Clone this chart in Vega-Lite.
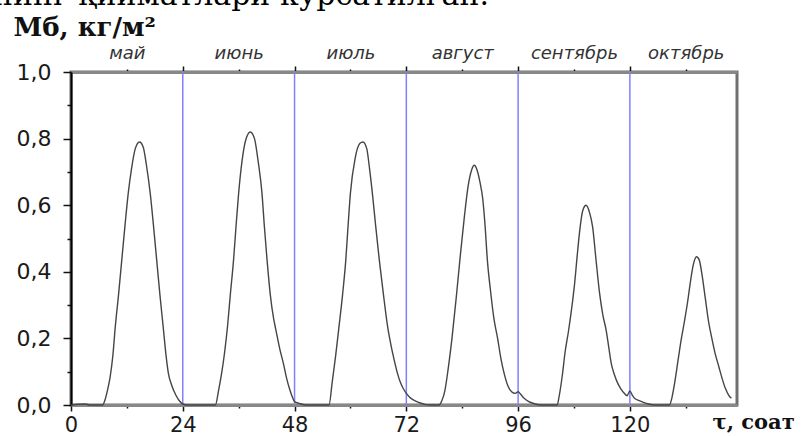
{
  "$schema": "https://vega.github.io/schema/vega-lite/v6.json",
  "width": 666,
  "height": 333,
  "autosize": {"type": "none"},
  "padding": {"left": 71, "top": 72, "right": 73, "bottom": 31},
  "background": "white",
  "title": {
    "text": "нинг қийматлари кўрсатилган.",
    "anchor": "start",
    "frame": "group",
    "orient": "top",
    "offset": -21,
    "dx": -78,
    "baseline": "alphabetic",
    "font": "DejaVu Serif",
    "fontSize": 30,
    "fontWeight": "normal",
    "color": "#000000"
  },
  "config": {
    "view": {"stroke": "#707070", "strokeWidth": 3},
    "axis": {"grid": false, "zindex": 1}
  },
  "datasets": {
    "days": [{"t": 24}, {"t": 48}, {"t": 72}, {"t": 96}, {"t": 120}],
    "curve": [
      {"t": 0, "m": 0}, {"t": 3, "m": 0.003}, {"t": 4, "m": 0}, {"t": 6.8, "m": 0},
      {"t": 7.4, "m": 0.02}, {"t": 8.0, "m": 0.055}, {"t": 8.4, "m": 0.084}, {"t": 9.0, "m": 0.15},
      {"t": 9.5, "m": 0.234}, {"t": 10.2, "m": 0.33}, {"t": 10.9, "m": 0.435}, {"t": 11.6, "m": 0.54},
      {"t": 12.3, "m": 0.637}, {"t": 13.0, "m": 0.71}, {"t": 13.8, "m": 0.77}, {"t": 14.7, "m": 0.79},
      {"t": 15.5, "m": 0.775}, {"t": 16.2, "m": 0.72}, {"t": 17.0, "m": 0.637}, {"t": 17.7, "m": 0.54},
      {"t": 18.4, "m": 0.435}, {"t": 19.1, "m": 0.33}, {"t": 19.8, "m": 0.234}, {"t": 20.4, "m": 0.15},
      {"t": 20.9, "m": 0.096}, {"t": 21.6, "m": 0.06}, {"t": 22.5, "m": 0.03}, {"t": 23.3, "m": 0.012},
      {"t": 24.0, "m": 0.003}, {"t": 25.0, "m": 0}, {"t": 31.0, "m": 0},
      {"t": 31.7, "m": 0.045}, {"t": 32.4, "m": 0.1}, {"t": 33.0, "m": 0.16}, {"t": 33.6, "m": 0.235},
      {"t": 34.2, "m": 0.33}, {"t": 34.9, "m": 0.435}, {"t": 35.4, "m": 0.53}, {"t": 36.0, "m": 0.637},
      {"t": 36.7, "m": 0.73}, {"t": 37.5, "m": 0.795}, {"t": 38.5, "m": 0.82}, {"t": 39.4, "m": 0.8},
      {"t": 40.2, "m": 0.73}, {"t": 41.0, "m": 0.637}, {"t": 41.5, "m": 0.54}, {"t": 42.1, "m": 0.435},
      {"t": 42.8, "m": 0.33}, {"t": 43.5, "m": 0.26}, {"t": 44.0, "m": 0.225}, {"t": 44.8, "m": 0.17},
      {"t": 45.6, "m": 0.125}, {"t": 46.3, "m": 0.08}, {"t": 47.0, "m": 0.045}, {"t": 47.5, "m": 0.025},
      {"t": 48.0, "m": 0.01}, {"t": 49.0, "m": 0.005}, {"t": 50.5, "m": 0}, {"t": 55.4, "m": 0},
      {"t": 56.1, "m": 0.07}, {"t": 56.8, "m": 0.145}, {"t": 57.5, "m": 0.23}, {"t": 58.3, "m": 0.33},
      {"t": 59.0, "m": 0.435}, {"t": 59.5, "m": 0.54}, {"t": 60.0, "m": 0.637}, {"t": 61.0, "m": 0.74},
      {"t": 62.0, "m": 0.785}, {"t": 62.7, "m": 0.79}, {"t": 63.5, "m": 0.77}, {"t": 64.1, "m": 0.71},
      {"t": 64.7, "m": 0.637}, {"t": 65.4, "m": 0.54}, {"t": 66.2, "m": 0.435}, {"t": 67.1, "m": 0.33},
      {"t": 68.0, "m": 0.234}, {"t": 68.7, "m": 0.18}, {"t": 69.4, "m": 0.135}, {"t": 70.1, "m": 0.095},
      {"t": 70.8, "m": 0.065}, {"t": 71.4, "m": 0.048}, {"t": 72.0, "m": 0.035}, {"t": 73.0, "m": 0.02},
      {"t": 74.0, "m": 0.012}, {"t": 75.0, "m": 0.006}, {"t": 76.0, "m": 0.002}, {"t": 77.0, "m": 0},
      {"t": 79.0, "m": 0}, {"t": 79.6, "m": 0.012}, {"t": 80.3, "m": 0.045}, {"t": 81.0, "m": 0.11},
      {"t": 81.8, "m": 0.2}, {"t": 82.7, "m": 0.32}, {"t": 83.6, "m": 0.45}, {"t": 84.5, "m": 0.57},
      {"t": 85.3, "m": 0.66}, {"t": 86.0, "m": 0.705}, {"t": 86.6, "m": 0.72}, {"t": 87.2, "m": 0.705},
      {"t": 87.8, "m": 0.67}, {"t": 88.4, "m": 0.62}, {"t": 88.9, "m": 0.54}, {"t": 89.4, "m": 0.435},
      {"t": 90.1, "m": 0.34}, {"t": 90.8, "m": 0.26}, {"t": 91.6, "m": 0.2}, {"t": 92.3, "m": 0.14},
      {"t": 93.0, "m": 0.095}, {"t": 93.8, "m": 0.058}, {"t": 94.6, "m": 0.04}, {"t": 95.4, "m": 0.035},
      {"t": 96.0, "m": 0.04}, {"t": 96.5, "m": 0.033}, {"t": 97.3, "m": 0.02}, {"t": 98.3, "m": 0.01},
      {"t": 99.5, "m": 0.004}, {"t": 101.0, "m": 0}, {"t": 104.4, "m": 0},
      {"t": 104.8, "m": 0.025}, {"t": 105.5, "m": 0.09}, {"t": 106.1, "m": 0.16}, {"t": 106.8, "m": 0.22},
      {"t": 107.5, "m": 0.29}, {"t": 108.1, "m": 0.36}, {"t": 108.7, "m": 0.45}, {"t": 109.2, "m": 0.52},
      {"t": 109.9, "m": 0.585}, {"t": 110.6, "m": 0.6}, {"t": 111.3, "m": 0.58}, {"t": 112.0, "m": 0.535},
      {"t": 112.7, "m": 0.44}, {"t": 113.5, "m": 0.335}, {"t": 114.2, "m": 0.27}, {"t": 114.9, "m": 0.225},
      {"t": 115.5, "m": 0.17}, {"t": 116.0, "m": 0.125}, {"t": 116.7, "m": 0.09}, {"t": 117.4, "m": 0.065},
      {"t": 118.1, "m": 0.048}, {"t": 118.8, "m": 0.035}, {"t": 119.4, "m": 0.028}, {"t": 120.0, "m": 0.042},
      {"t": 120.5, "m": 0.03}, {"t": 121.0, "m": 0.02}, {"t": 122.0, "m": 0.013}, {"t": 122.9, "m": 0.008},
      {"t": 124.0, "m": 0.003}, {"t": 125.5, "m": 0}, {"t": 128.5, "m": 0},
      {"t": 129.0, "m": 0.02}, {"t": 129.6, "m": 0.065}, {"t": 130.3, "m": 0.13}, {"t": 131.0, "m": 0.195},
      {"t": 131.7, "m": 0.25}, {"t": 132.4, "m": 0.31}, {"t": 133.0, "m": 0.37}, {"t": 133.6, "m": 0.42},
      {"t": 134.3, "m": 0.445}, {"t": 134.9, "m": 0.435}, {"t": 135.5, "m": 0.39}, {"t": 136.2, "m": 0.32},
      {"t": 136.9, "m": 0.25}, {"t": 137.6, "m": 0.2}, {"t": 138.3, "m": 0.155}, {"t": 139.1, "m": 0.115},
      {"t": 139.8, "m": 0.08}, {"t": 140.5, "m": 0.05}, {"t": 141.2, "m": 0.03}, {"t": 141.8, "m": 0.02}
    ]
  },
  "layer": [
    {
      "data": {"name": "days"},
      "mark": {"type": "rule", "color": "#8080ff", "strokeWidth": 1.5},
      "encoding": {
        "x": {
          "field": "t",
          "type": "quantitative",
          "scale": {"domain": [0, 143], "nice": false, "zero": false},
          "axis": {
            "orient": "top",
            "title": null,
            "values": [12, 24, 36, 48, 60, 72, 84, 96, 108, 120, 132],
            "labelExpr": "datum.value % 24 == 12 ? ['май','июнь','июль','август','сентябрь','октябрь'][floor(datum.value / 24)] : ''",
            "labelFont": "DejaVu Sans",
            "labelFontStyle": "italic",
            "labelFontSize": 18,
            "labelColor": "#333333",
            "labelBaseline": "alphabetic",
            "labelPadding": 11,
            "labelFlush": false,
            "labelOverlap": false,
            "domainColor": "#888888",
            "domainWidth": 3,
            "tickColor": "#111111",
            "tickWidth": 1.5,
            "tickSize": {"condition": {"test": "datum.value % 24 == 0", "value": 6}, "value": 3}
          }
        }
      }
    },
    {
      "data": {"name": "curve"},
      "mark": {"type": "line", "interpolate": "monotone", "color": "#454545", "strokeWidth": 1.4},
      "encoding": {
        "x": {
          "field": "t",
          "type": "quantitative",
          "scale": {"domain": [0, 143], "nice": false, "zero": false},
          "axis": {
            "orient": "bottom",
            "values": [0, 12, 24, 36, 48, 60, 72, 84, 96, 108, 120, 132],
            "labelExpr": "datum.value % 24 == 0 ? datum.label : ''",
            "labelFont": "DejaVu Sans",
            "labelFontSize": 21,
            "labelColor": "#1a1a1a",
            "labelPadding": 3,
            "labelFlush": false,
            "labelOverlap": false,
            "domainColor": "#888888",
            "domainWidth": 3,
            "tickColor": "#111111",
            "tickWidth": 1.5,
            "tickSize": {"condition": {"test": "datum.value % 24 == 0", "value": 6}, "value": 3},
            "title": "τ, соат",
            "titleFont": "DejaVu Serif",
            "titleFontWeight": "bold",
            "titleFontSize": 21,
            "titleColor": "#111111",
            "titleAngle": 0,
            "titleAlign": "left",
            "titleBaseline": "alphabetic",
            "titleX": 641,
            "titleY": 23
          }
        },
        "y": {
          "field": "m",
          "type": "quantitative",
          "scale": {"domain": [0, 1], "nice": false},
          "axis": {
            "values": [0, 0.1, 0.2, 0.3, 0.4, 0.5, 0.6, 0.7, 0.8, 0.9, 1.0],
            "labelExpr": "round(datum.value * 10) % 2 == 0 ? replace(format(datum.value, '.1f'), '.', ',') : ''",
            "labelFont": "DejaVu Sans",
            "labelFontSize": 22,
            "labelColor": "#1a1a1a",
            "labelPadding": 12,
            "labelOverlap": false,
            "labelFlush": false,
            "domainColor": "#000000",
            "domainWidth": 2,
            "tickColor": "#111111",
            "tickWidth": 1.5,
            "tickSize": {"condition": {"test": "round(datum.value * 10) % 2 == 0", "value": 8}, "value": 4},
            "title": "Мб, кг/м²",
            "titleFont": "DejaVu Serif",
            "titleFontWeight": "bold",
            "titleFontSize": 26,
            "titleColor": "#111111",
            "titleAngle": 0,
            "titleAlign": "left",
            "titleBaseline": "alphabetic",
            "titleX": -58,
            "titleY": -37
          }
        }
      }
    }
  ],
  "resolve": {"axis": {"x": "independent"}}
}
